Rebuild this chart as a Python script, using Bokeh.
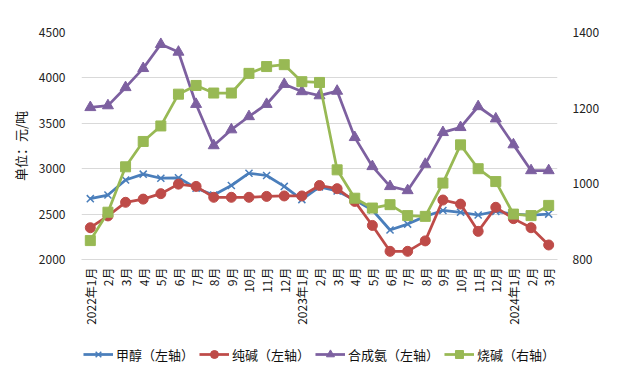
from bokeh.plotting import figure
from bokeh.layouts import column
from bokeh.models import Range1d, LinearAxis, Legend, LegendItem, FixedTicker
from bokeh.embed import file_html
from bokeh.resources import INLINE

months = ["2022年1月", "2月", "3月", "4月", "5月", "6月", "7月", "8月", "9月", "10月", "11月", "12月",
          "2023年1月", "2月", "3月", "4月", "5月", "6月", "7月", "8月", "9月", "10月", "11月", "12月",
          "2024年1月", "2月", "3月"]
methanol = [2670, 2710, 2875, 2940, 2895, 2900, 2785, 2710, 2815, 2950, 2925, 2805, 2660, 2800, 2755,
            2655, 2545, 2325, 2390, 2475, 2540, 2520, 2490, 2530, 2500, 2490, 2500]
soda_ash = [2350, 2480, 2630, 2665, 2725, 2830, 2805, 2685, 2685, 2685, 2695, 2700, 2700, 2815, 2780,
            2640, 2375, 2090, 2090, 2205, 2655, 2610, 2310, 2575, 2450, 2350, 2160]
ammonia = [3675, 3695, 3895, 4105, 4370, 4285, 3710, 3255, 3430, 3575, 3710, 3930, 3850, 3805, 3855,
           3345, 3025, 2805, 2760, 3050, 3400, 3455, 3685, 3550, 3265, 2980, 2980]
caustic = [850, 925, 1045, 1112, 1153, 1237, 1260, 1240, 1240, 1292, 1310, 1315, 1270, 1268, 1037,
           962, 936, 945, 916, 914, 1002, 1103, 1040, 1006, 920, 916, 943]
names = ["甲醇（左轴）", "纯碱（左轴）", "合成氨（左轴）", "烧碱（右轴）"]
colors = ["#4A7EBB", "#BE4B48", "#7D60A0", "#98B954"]
left_ticks = [2000, 2500, 3000, 3500, 4000, 4500]
right_ticks = [800, 1000, 1200, 1400]

x = list(range(len(months)))
FONT = "Noto Sans CJK SC"

p = figure(width=612, height=341, output_backend="svg", toolbar_location=None,
           x_range=Range1d(-0.5, len(months) - 0.5), y_range=Range1d(2000, 4500),
           min_border_left=81, min_border_right=55, min_border_top=32, min_border_bottom=82)
p.outline_line_color = None
p.background_fill_color = "white"
p.border_fill_color = "white"

p.extra_y_ranges = {"right": Range1d(800, 1400)}

ya = p.yaxis[0]
ya.ticker = FixedTicker(ticks=left_ticks)
ya.axis_line_color = None
ya.major_tick_line_color = None
ya.minor_tick_line_color = None
ya.major_label_standoff = 10
ya.major_label_text_font = FONT
ya.major_label_text_font_size = "12px"
ya.major_label_text_color = "#222222"
ya.axis_label = "单位：元/吨"
ya.axis_label_text_font = FONT
ya.axis_label_text_font_size = "13px"
ya.axis_label_text_font_style = "normal"
ya.axis_label_standoff = 6
ya.axis_label_text_color = "#111111"

ra = LinearAxis(y_range_name="right", ticker=FixedTicker(ticks=right_ticks))
ra.axis_line_color = None
ra.major_tick_line_color = None
ra.minor_tick_line_color = None
ra.major_label_standoff = 9
ra.major_label_text_font = FONT
ra.major_label_text_font_size = "12px"
ra.major_label_text_color = "#222222"
p.add_layout(ra, "right")

xa = p.xaxis[0]
xa.ticker = FixedTicker(ticks=x)
xa.major_label_overrides = {i: m for i, m in enumerate(months)}
xa.major_label_orientation = 3.14159265 / 2
xa.axis_line_color = "#D9D9D9"
xa.major_tick_line_color = None
xa.minor_tick_line_color = None
xa.major_tick_out = 0
xa.major_tick_in = 0
xa.major_label_standoff = 8
xa.major_label_text_font = FONT
xa.major_label_text_font_size = "12px"
xa.major_label_text_color = "#111111"

p.xgrid.grid_line_color = None
p.ygrid.grid_line_color = "#D9D9D9"
p.ygrid.ticker = FixedTicker(ticks=left_ticks)

lw = 2.75
p.line(x, methanol, line_color=colors[0], line_width=lw)
p.scatter(x, methanol, marker="x", size=10, line_color=colors[0], line_width=1.5)
p.line(x, soda_ash, line_color=colors[1], line_width=lw)
p.scatter(x, soda_ash, marker="circle", size=10, fill_color=colors[1], line_color=colors[1])
p.line(x, ammonia, line_color=colors[2], line_width=lw)
p.scatter(x, ammonia, marker="triangle", size=11, fill_color=colors[2], line_color=colors[2])
p.line(x, caustic, line_color=colors[3], line_width=lw, y_range_name="right")
p.scatter(x, caustic, marker="square", size=10, fill_color=colors[3], line_color=colors[3],
          y_range_name="right")

# legend strip below the chart (renderers hold one point outside the visible range)
q = figure(width=612, height=26, output_backend="svg", toolbar_location=None,
           x_axis_type=None, y_axis_type=None, x_range=Range1d(0, 1), y_range=Range1d(0, 1),
           min_border=0)
q.outline_line_color = None
q.xgrid.grid_line_color = None
q.ygrid.grid_line_color = None
markers = ["x", "circle", "triangle", "square"]
msizes = [10, 10, 11, 10]
items = []
for name, c, m, s in zip(names, colors, markers, msizes):
    lr = q.line([-10, -9], [-10, -10], line_color=c, line_width=lw)
    if m == "x":
        sr = q.scatter([-10], [-10], marker=m, size=s, line_color=c, line_width=1.5)
    else:
        sr = q.scatter([-10], [-10], marker=m, size=s, fill_color=c, line_color=c)
    items.append(LegendItem(label=name, renderers=[lr, sr]))

legend = Legend(items=items, orientation="horizontal", location="center")
legend.label_text_font = FONT
legend.label_text_font_size = "13px"
legend.label_text_color = "#111111"
legend.glyph_width = 30
legend.label_standoff = 3
legend.spacing = 5
legend.padding = 0
legend.margin = 0
legend.border_line_color = None
legend.background_fill_alpha = 0
q.add_layout(legend, "center")

layout = column(p, q, spacing=0)
open("out.html", "w").write(file_html(layout, INLINE))
